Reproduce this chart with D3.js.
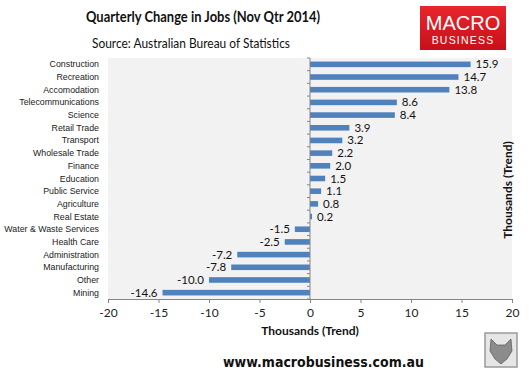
<!DOCTYPE html>
<html>
<head>
<meta charset="utf-8">
<script src="https://cdn.jsdelivr.net/npm/d3@7"></script>
<style>
  body { margin: 0; background: #fff; }
  svg { display: block; }
</style>
</head>
<body>
<div id="chart"></div>
<script>
// values, top to bottom
const sectors = ['Construction', 'Recreation', 'Accomodation', 'Telecommunications', 'Science',
  'Retail Trade', 'Transport', 'Wholesale Trade', 'Finance', 'Education', 'Public Service',
  'Agriculture', 'Real Estate', 'Water & Waste Services', 'Health Care', 'Administration',
  'Manufacturing', 'Other', 'Mining'];
const change = [15.9, 14.7, 13.8, 8.6, 8.4, 3.9, 3.2, 2.2, 2.0, 1.5, 1.1, 0.8, 0.2,
  -1.5, -2.5, -7.2, -7.8, -10.0, -14.6];
const xTicks = [-20, -15, -10, -5, 0, 5, 10, 15, 20];

const width = 532, height = 372;
const plot = {left: 108, right: 512, top: 58, bottom: 299};

let svg = d3.select('#chart').append('svg')
  .attr('width', width)
  .attr('height', height);

let x = d3.scaleLinear().domain([-20, 20]).range([plot.left, plot.right]);
let y = d3.scaleBand().domain(sectors).range([plot.top, plot.bottom]).paddingInner(0.56).paddingOuter(0.28);

//plot area background
svg.append('rect')
  .attr('x', plot.left)
  .attr('y', plot.top)
  .attr('width', plot.right - plot.left)
  .attr('height', plot.bottom - plot.top)
  .attr('fill', '#f2f2f2');

//bars
svg.append('g').selectAll('rect')
  .data(change)
  .join('rect')
  .attr('x', d => x(Math.min(0, d)))
  .attr('y', (d, i) => y(sectors[i]))
  .attr('width', d => Math.abs(x(d) - x(0)))
  .attr('height', y.bandwidth())
  .attr('fill', '#4f81bd');

//value labels
svg.append('g').selectAll('text')
  .data(change)
  .join('text')
  .attr('x', d => d >= 0 ? x(d) + 5 : x(d) - 5)
  .attr('y', (d, i) => y(sectors[i]) + y.bandwidth() / 2 + 4)
  .attr('text-anchor', d => d >= 0 ? 'start' : 'end')
  .style('font-family', 'Lato, sans-serif')
  .style('font-size', '11.5px')
  .attr('fill', '#111')
  .text(d => d.toFixed(1));

//category labels
svg.append('g').selectAll('text')
  .data(sectors)
  .join('text')
  .attr('x', 99)
  .attr('y', d => y(d) + y.bandwidth() / 2 + 3)
  .attr('text-anchor', 'end')
  .style('font-family', '"Liberation Sans", Arial, sans-serif')
  .style('font-size', '8.8px')
  .attr('fill', '#222')
  .text(d => d);

//vertical axis at zero, ticks on band edges
let yEdges = sectors.map(d => y(d) - y.step() * y.paddingInner() / 2).concat([plot.bottom]);
svg.append('g').selectAll('line')
  .data(yEdges)
  .join('line')
  .attr('x1', x(0) - 3)
  .attr('x2', x(0))
  .attr('y1', d => d)
  .attr('y2', d => d)
  .attr('stroke', '#868686');
svg.append('line')
  .attr('x1', x(0)).attr('x2', x(0))
  .attr('y1', plot.top).attr('y2', plot.bottom)
  .attr('stroke', '#868686');

//x axis
let xAxis = d3.axisBottom(x).tickValues(xTicks).tickSize(4).tickSizeOuter(0).tickFormat(d3.format('d'));
let gx = svg.append('g')
  .attr('transform', `translate(0,${plot.bottom})`)
  .call(xAxis);
gx.select('.domain').attr('stroke', '#868686');
gx.selectAll('.tick line').attr('stroke', '#868686');
gx.selectAll('.tick text')
  .attr('dy', '0.95em')
  .style('font-family', 'Lato, sans-serif')
  .style('font-size', '12px')
  .attr('fill', '#222')
  .text(d => d < 0 ? '-' + Math.abs(d) : d);

svg.append('text')
  .attr('x', 310)
  .attr('y', 335)
  .attr('text-anchor', 'middle')
  .style('font-family', 'Lato, sans-serif')
  .style('font-weight', 'bold')
  .style('font-size', '12px')
  .attr('fill', '#111')
  .text('Thousands (Trend)');

svg.append('text')
  .attr('transform', 'translate(512,190) rotate(-90)')
  .attr('text-anchor', 'middle')
  .style('font-family', 'Lato, sans-serif')
  .style('font-weight', 'bold')
  .style('font-size', '12px')
  .attr('fill', '#111')
  .text('Thousands (Trend)');

//titles
svg.append('text')
  .attr('x', 86)
  .attr('y', 22)
  .attr('textLength', 234)
  .attr('lengthAdjust', 'spacingAndGlyphs')
  .style('font-family', 'Lato, sans-serif')
  .style('font-weight', 'bold')
  .style('font-size', '14.5px')
  .attr('fill', '#111')
  .text('Quarterly Change in Jobs (Nov Qtr 2014)');

svg.append('text')
  .attr('x', 92)
  .attr('y', 48)
  .attr('textLength', 198)
  .attr('lengthAdjust', 'spacingAndGlyphs')
  .style('font-family', 'Lato, sans-serif')
  .style('font-size', '12.5px')
  .attr('fill', '#111')
  .text('Source: Australian Bureau of Statistics');

svg.append('text')
  .attr('x', 223)
  .attr('y', 367)
  .attr('textLength', 201)
  .attr('lengthAdjust', 'spacingAndGlyphs')
  .style('font-family', '"DejaVu Sans", Verdana, sans-serif')
  .style('font-weight', 'bold')
  .style('font-size', '14px')
  .attr('fill', '#111')
  .text('www.macrobusiness.com.au');

//logo
let grad = svg.append('defs').append('linearGradient')
  .attr('id', 'red').attr('x1', 0).attr('y1', 0).attr('x2', 0).attr('y2', 1);
grad.append('stop').attr('offset', '0%').attr('stop-color', '#e8262b');
grad.append('stop').attr('offset', '100%').attr('stop-color', '#c8101a');
svg.append('rect')
  .attr('x', 420).attr('y', 6)
  .attr('width', 86).attr('height', 44)
  .attr('fill', 'url(#red)');
svg.append('text')
  .attr('x', 463).attr('y', 30)
  .attr('text-anchor', 'middle')
  .style('font-family', '"Liberation Sans", Arial, sans-serif')
  .style('font-size', '20px')
  .attr('fill', '#fff')
  .text('MACRO');
svg.append('text')
  .attr('x', 463).attr('y', 44)
  .attr('text-anchor', 'middle')
  .style('font-family', '"Liberation Sans", Arial, sans-serif')
  .style('font-size', '10.5px')
  .style('letter-spacing', '1.2px')
  .attr('fill', '#fff')
  .text('BUSINESS');

//wolf badge (placeholder)
let badge = svg.append('g').attr('transform', 'translate(485,333)');
badge.append('rect')
  .attr('width', 32).attr('height', 34)
  .attr('fill', '#e6e6e6')
  .attr('stroke', '#9a9a9a').attr('stroke-width', 1.5);
badge.append('path')
  .attr('d', 'M6,6 L12,12 L20,12 L26,6 L27,18 L22,26 L16,31 L10,26 L5,18 Z')
  .attr('fill', '#8c8c8c').attr('stroke', '#555').attr('stroke-width', 0.7);
</script>
</body>
</html>
